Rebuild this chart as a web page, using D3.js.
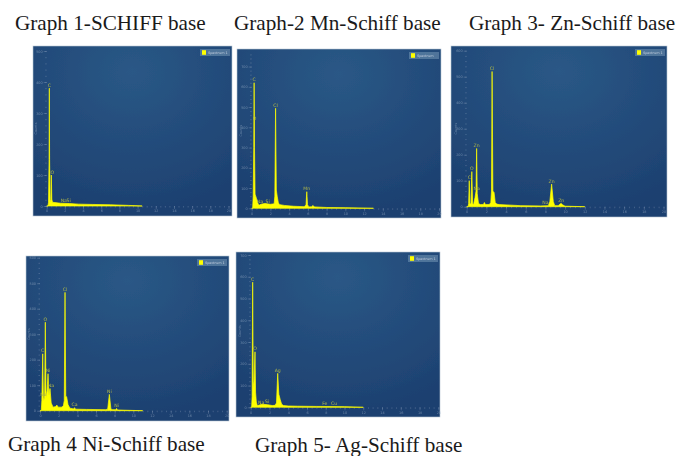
<!DOCTYPE html>
<html>
<head>
<meta charset="utf-8">
<script src="https://cdn.jsdelivr.net/npm/d3@7"></script>
<style>
  html, body { margin: 0; padding: 0; background: #ffffff; }
  svg { display: block; }
  .title { font-family: "Liberation Serif", serif; font-size: 21.2px; fill: #1a1a1a; }
  .axis path { stroke: none; }
  .axis line { stroke: #9fb4cb; stroke-opacity: 0.55; stroke-width: 0.5; }
  .axis text { fill: #9db2ca; fill-opacity: 0.6; font-family: "DejaVu Sans", sans-serif; font-size: 3.4px; }
  .peak { font-family: "DejaVu Sans", sans-serif; font-size: 4.6px; fill: #b4bb48; }
</style>
</head>
<body>
<svg class="chart" width="679" height="456"></svg>
<script>
// values, energy in keV and counts
var titles = ['Graph 1-SCHIFF base', 'Graph-2 Mn-Schiff base', 'Graph 3- Zn-Schiff base', 'Graph 4 Ni-Schiff base', 'Graph 5- Ag-Schiff base'];
var legendNames = ['Spectrum 1', 'Spectrum', 'Spectrum 1', 'Spectrum 1', 'Spectrum 1'];
var energyTicks = [0, 2, 4, 6, 8, 10, 12, 14, 16, 18, 20];

var kev1 = [0, 0.14, 0.2, 0.26, 0.29, 0.32, 0.38, 0.46, 0.51, 0.56, 0.64, 0.9, 1.5, 2.5, 3.5, 5, 7, 9, 10.5];
var counts1 = [0, 0, 12, 150, 380, 150, 14, 20, 100, 22, 12, 11, 9, 8, 6, 5, 4, 2, 0];
var peaks1 = ['C', 'O', 'Na', 'Si'];
var peakKev1 = [0.29, 0.51, 1.0, 1.75];
var peakCounts1 = [380, 100, 8, 8];

var kev2 = [0, 0.1, 0.16, 0.22, 0.26, 0.3, 0.36, 0.5, 0.7, 0.8, 1.0, 1.4, 2.0, 2.4, 2.47, 2.55, 2.63, 2.72, 2.85, 3.0, 3.5, 4.5, 5.6, 5.8, 5.88, 5.96, 6.1, 6.4, 6.55, 6.7, 8, 10, 13];
var counts2 = [0, 0, 60, 300, 620, 300, 70, 50, 20, 16, 20, 24, 20, 22, 60, 494, 90, 60, 26, 18, 14, 10, 8, 16, 82, 18, 7, 8, 14, 7, 4, 3, 0];
var peaks2 = ['C', 'O', 'Na', 'Si', 'Cl', 'Mn'];
var peakKev2 = [0.26, 0.3, 0.55, 1.7, 2.55, 5.88];
var peakCounts2 = [620, 430, 18, 18, 494, 82];

var kev3 = [0, 0.14, 0.2, 0.26, 0.32, 0.38, 0.44, 0.52, 0.6, 0.7, 0.85, 0.95, 1.01, 1.07, 1.2, 1.4, 1.7, 1.8, 1.9, 2.3, 2.45, 2.52, 2.58, 2.66, 2.78, 2.9, 3.05, 3.3, 4, 5.5, 7.5, 8.3, 8.45, 8.63, 8.8, 8.95, 9.3, 9.5, 9.6, 9.7, 10, 12];
var counts3 = [0, 0, 12, 100, 12, 10, 14, 135, 12, 8, 36, 60, 224, 50, 12, 8, 8, 16, 8, 8, 16, 60, 520, 60, 55, 16, 10, 8, 7, 4, 3, 4, 20, 87, 20, 4, 4, 10, 13, 8, 2, 0];
var peaks3 = ['C', 'O', 'Zn', 'Na', 'Cl', 'Na', 'Zn', 'Zn'];
var peakKev3 = [0.26, 0.52, 1.01, 1.01, 2.58, 8.0, 8.63, 9.6];
var peakCounts3 = [100, 135, 224, 60, 520, 6, 87, 13];

var kev4 = [0, 0.14, 0.2, 0.29, 0.36, 0.42, 0.5, 0.57, 0.64, 0.72, 0.86, 0.96, 1.07, 1.2, 1.4, 1.7, 1.8, 1.95, 2.3, 2.5, 2.6, 2.68, 2.76, 2.85, 3.0, 3.2, 3.6, 3.7, 3.8, 5, 7, 7.25, 7.43, 7.6, 7.8, 8.1, 8.2, 8.3, 9, 11];
var counts4 = [0, 0, 40, 223, 50, 40, 60, 347, 80, 50, 145, 60, 87, 30, 14, 16, 22, 14, 14, 18, 40, 464, 55, 55, 24, 10, 7, 12, 6, 5, 4, 6, 64, 6, 4, 4, 9, 3, 2, 0];
var peaks4 = ['C', 'O', 'Ni', 'Na', 'Na', 'Cl', 'Ca', 'Ni', 'Ni'];
var peakKev4 = [0.29, 0.57, 0.86, 1.07, 0.36, 2.68, 3.7, 7.43, 8.2];
var peakCounts4 = [223, 347, 145, 87, 50, 464, 12, 64, 9];

var kev5 = [0, 0.1, 0.15, 0.21, 0.27, 0.33, 0.46, 0.52, 0.6, 0.7, 0.9, 1.2, 1.8, 2.3, 2.6, 2.75, 2.88, 3.0, 3.15, 3.3, 3.5, 4, 5, 7, 10, 12];
var counts5 = [0, 0, 50, 575, 120, 90, 255, 70, 24, 8, 10, 14, 12, 8, 9, 20, 156, 60, 35, 14, 8, 6, 5, 4, 3, 0];
var peaks5 = ['C', 'O', 'Na', 'Si', 'Ag', 'Fe', 'Cu'];
var peakKev5 = [0.21, 0.46, 0.9, 1.75, 2.88, 7.9, 8.9];
var peakCounts5 = [575, 255, 8, 14, 156, 3, 3];

var countTicks1 = [0, 100, 200, 300, 400, 500];
var countTicks2 = [0, 100, 200, 300, 400, 500, 600, 700];
var countTicks3 = [0, 100, 200, 300, 400, 500, 600];
var countTicks4 = [0, 100, 200, 300, 400, 500, 600];
var countTicks5 = [0, 100, 200, 300, 400, 500, 600, 700];

var svg = d3.select('.chart');

var defs = svg.append('defs');
var grad = defs.append('radialGradient')
  .attr('id', 'panel-bg')
  .attr('cx', '50%').attr('cy', '15%').attr('r', '85%');
grad.append('stop').attr('offset', '0%').attr('stop-color', '#2a5886');
grad.append('stop').attr('offset', '100%').attr('stop-color', '#1d4070');
defs.append('filter')
  .attr('id', 'soft')
  .attr('x', '-5%').attr('y', '-5%').attr('width', '110%').attr('height', '110%')
  .append('feGaussianBlur').attr('stdDeviation', 0.45);

var titlePos = [[15, 30], [234, 30], [469, 30], [8, 451], [255, 452]];

var draw_panel = function(cfg){
  var g = svg.append('g').attr('filter', 'url(#soft)');

  g.append('rect')
    .attr('x', cfg.x0).attr('y', cfg.y0)
    .attr('width', cfg.x1 - cfg.x0).attr('height', cfg.y1 - cfg.y0)
    .attr('fill', 'url(#panel-bg)')
    .attr('stroke', '#b9c6d4')
    .attr('stroke-width', 0.6);

  var xScale = d3.scaleLinear().domain([0, 20]).range([cfg.left, cfg.right]);
  var yScale = d3.scaleLinear().domain([0, cfg.top]).range([cfg.base, cfg.ceil]);

  // minor ticks then the labelled ones, x axis
  g.append('g')
    .attr('class', 'axis')
    .attr('transform', 'translate(0,' + cfg.base + ')')
    .call(d3.axisBottom(xScale).tickValues(d3.range(0, 20.5, 0.5)).tickSize(1.5).tickFormat(''));
  g.append('g')
    .attr('class', 'axis')
    .attr('transform', 'translate(0,' + cfg.base + ')')
    .call(d3.axisBottom(xScale).tickValues(energyTicks).tickSize(3).tickPadding(1).tickFormat(d3.format('d')));

  var minor = [];
  cfg.yTicks.forEach(function(t){
    [0, 20, 40, 60, 80].forEach(function(s){
      if (t + s <= cfg.top) minor.push(t + s);
    });
  });
  g.append('g')
    .attr('class', 'axis')
    .attr('transform', 'translate(' + cfg.left + ',0)')
    .call(d3.axisLeft(yScale).tickValues(minor).tickSize(1.5).tickFormat(''));
  g.append('g')
    .attr('class', 'axis')
    .attr('transform', 'translate(' + cfg.left + ',0)')
    .call(d3.axisLeft(yScale).tickValues(cfg.yTicks).tickSize(3).tickPadding(1).tickFormat(d3.format('d')));

  g.append('text')
    .text('Counts')
    .attr('transform', 'translate(' + (cfg.left - 10) + ',' + ((cfg.base + cfg.ceil) / 2) + ') rotate(-90)')
    .attr('text-anchor', 'middle')
    .style('font-family', '"DejaVu Sans", sans-serif')
    .style('font-size', '3.4px')
    .style('fill', '#9db2ca')
    .style('fill-opacity', 0.6);

  var area = d3.area()
    .x(function(d){ return xScale(d[0]); })
    .y0(yScale(0))
    .y1(function(d){ return yScale(d[1]); });

  g.append('path')
    .datum(d3.zip(cfg.kev, cfg.counts))
    .attr('d', area)
    .attr('fill', '#ffff00')
    .attr('stroke', '#ffff00')
    .attr('stroke-width', 0.7)
    .attr('stroke-linejoin', 'round');

  // element labels sit just over their peak
  g.selectAll('.peak')
    .data(cfg.peaks)
    .enter().append('text')
    .attr('class', 'peak')
    .attr('text-anchor', 'middle')
    .attr('x', function(d, i){ return xScale(cfg.peakKev[i]) + (cfg.nudge[i] || 0); })
    .attr('y', function(d, i){ return yScale(cfg.peakCounts[i]) - 1.5; })
    .text(function(d){ return d; });

  // legend box
  var lx = cfg.x1 - 32, ly = cfg.y0 + 3;
  g.append('rect')
    .attr('x', lx).attr('y', ly).attr('width', 30).attr('height', 7)
    .attr('fill', '#5f81a5').attr('fill-opacity', 0.75);
  g.append('rect')
    .attr('x', lx + 2).attr('y', ly + 1.2).attr('width', 4).attr('height', 4.6)
    .attr('fill', '#ffff00');
  g.append('text')
    .text(cfg.legend)
    .attr('x', lx + 8).attr('y', ly + 4.8)
    .style('font-family', '"DejaVu Sans", sans-serif')
    .style('font-size', '3.4px')
    .style('fill', '#c6d3e0');
};

draw_panel({x0: 33, x1: 232, y0: 46, y1: 216, left: 46.7, right: 228.5, base: 206, ceil: 51, top: 500,
  kev: kev1, counts: counts1, peaks: peaks1, peakKev: peakKev1, peakCounts: peakCounts1, yTicks: countTicks1,
  nudge: [0, 1, 8, 6], legend: legendNames[0]});
draw_panel({x0: 237, x1: 441, y0: 49, y1: 218, left: 251.7, right: 439, base: 208.3, ceil: 53, top: 767,
  kev: kev2, counts: counts2, peaks: peaks2, peakKev: peakKev2, peakCounts: peakCounts2, yTicks: countTicks2,
  nudge: [0, 0, 3, 0, 0, 0], legend: legendNames[1]});
draw_panel({x0: 451, x1: 667, y0: 46, y1: 217, left: 466.7, right: 663.5, base: 206.7, ceil: 50.7, top: 600,
  kev: kev3, counts: counts3, peaks: peaks3, peakKev: peakKev3, peakCounts: peakCounts3, yTicks: countTicks3,
  nudge: [0, 0, 0, 0, 0, 0, 0, 0], legend: legendNames[2]});
draw_panel({x0: 26, x1: 229, y0: 256, y1: 421, left: 40, right: 226.7, base: 410.7, ceil: 257.7, top: 600,
  kev: kev4, counts: counts4, peaks: peaks4, peakKev: peakKev4, peakCounts: peakCounts4, yTicks: countTicks4,
  nudge: [0, 0, 0, 1, 0, 0, 0, 0, 0], legend: legendNames[3]});
draw_panel({x0: 236, x1: 440, y0: 252, y1: 417, left: 250.7, right: 438.3, base: 407.3, ceil: 255, top: 700,
  kev: kev5, counts: counts5, peaks: peaks5, peakKev: peakKev5, peakCounts: peakCounts5, yTicks: countTicks5,
  nudge: [0, 0, 2, 0, 0, 0, 0], legend: legendNames[4]});

svg.selectAll('.title')
  .data(titles)
  .enter().append('text')
  .attr('class', 'title')
  .attr('x', function(d, i){ return titlePos[i][0]; })
  .attr('y', function(d, i){ return titlePos[i][1]; })
  .text(function(d){ return d; });
</script>
</body>
</html>
